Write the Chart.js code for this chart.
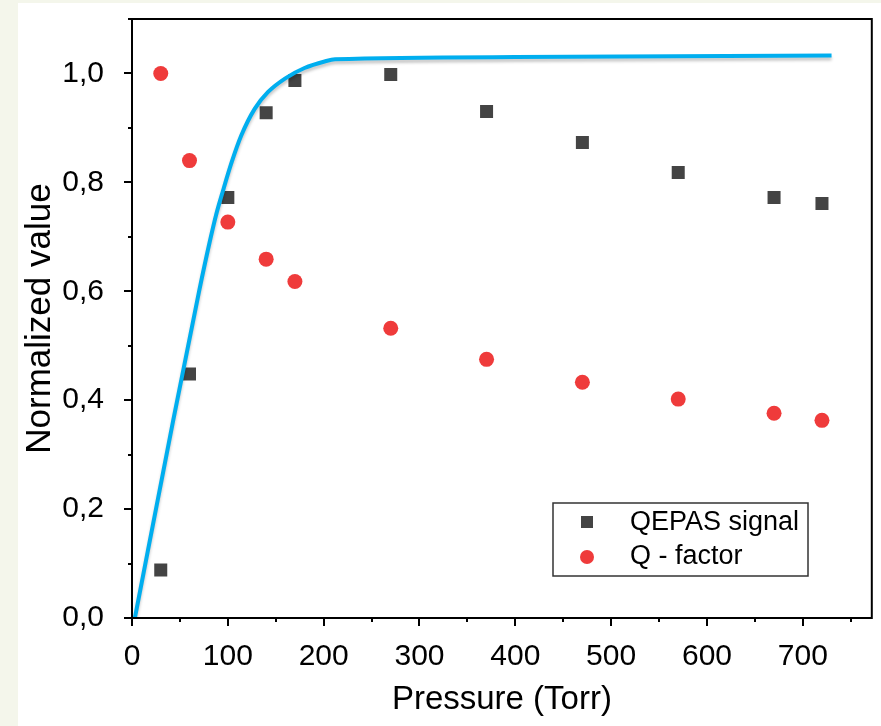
<!DOCTYPE html>
<html>
<head>
<meta charset="utf-8">
<script src="https://cdn.jsdelivr.net/npm/chart.js@4.4.1/dist/chart.umd.min.js"></script>
<style>
  html, body { margin: 0; padding: 0; background: #f4f6eb; }
  #wrap { width: 881px; height: 726px; }
</style>
</head>
<body>
<div id="wrap"><canvas id="chart" width="881" height="726"></canvas></div>
<script>
// ------------------------
// Data
// ------------------------
const pressure = [30, 60, 100, 140, 170, 270, 370, 470, 570, 670, 720];
const qepasSignal = [0.088, 0.448, 0.772, 0.928, 0.987, 0.998, 0.930, 0.873, 0.818, 0.772, 0.761];
const qFactor = [1.0, 0.840, 0.727, 0.659, 0.618, 0.532, 0.475, 0.433, 0.402, 0.376, 0.363];

// fitted curve (blue line)
const fitX = [3, 43, 70, 81, 88, 95, 104, 114, 128, 142, 160, 180, 201, 212, 400, 730];
const fitY = [0, 0.363, 0.6, 0.69, 0.742, 0.785, 0.837, 0.886, 0.935, 0.966, 0.991, 1.010, 1.022, 1.026, 1.030, 1.033];

const legendLabels = ['QEPAS signal', 'Q - factor'];
const FONT = '"Liberation Sans", Arial, sans-serif';

const toPoints = (xs, ys) => xs.map((x, i) => ({ x: x, y: ys[i] }));

// ------------------------
// Plugins
// ------------------------
const panelBg = {
    id: 'panelBg',
    beforeDraw(chart) {
        const ctx = chart.ctx;
        ctx.save();
        ctx.fillStyle = '#f4f6eb';
        ctx.fillRect(0, 0, chart.width, chart.height);
        ctx.fillStyle = '#ffffff';
        ctx.fillRect(18, 3, chart.width - 18, chart.height - 3);
        ctx.restore();
    }
};

// frame + major/minor ticks
const frameTicks = {
    id: 'frameTicks',
    afterDraw(chart) {
        const ctx = chart.ctx;
        const a = chart.chartArea;
        const xs = chart.scales.x;
        const ys = chart.scales.y;
        ctx.save();
        ctx.strokeStyle = '#000';
        ctx.lineWidth = 2;
        ctx.strokeRect(a.left, a.top, a.right - a.left, a.bottom - a.top);
        ctx.beginPath();
        xs.ticks.forEach(t => {
            const px = Math.round(xs.getPixelForValue(t.value));
            const len = t.value % 100 === 0 ? 8 : 4;
            ctx.moveTo(px, a.bottom);
            ctx.lineTo(px, a.bottom + len);
        });
        ys.ticks.forEach(t => {
            const py = Math.round(ys.getPixelForValue(t.value));
            const len = Math.round(t.value * 10) % 2 === 0 ? 8 : 4;
            ctx.moveTo(a.left, py);
            ctx.lineTo(a.left - len, py);
        });
        ctx.stroke();
        ctx.restore();
    }
};

// boxed legend inside the plot
const boxLegend = {
    id: 'boxLegend',
    afterDraw(chart) {
        const ctx = chart.ctx;
        ctx.save();
        ctx.fillStyle = '#ffffff';
        ctx.fillRect(553, 503, 255, 73);
        ctx.strokeStyle = '#333';
        ctx.lineWidth = 1.5;
        ctx.strokeRect(553, 503, 255, 73);
        ctx.fillStyle = '#444444';
        ctx.fillRect(581, 516, 12, 12);
        ctx.fillStyle = '#ef3b3b';
        ctx.beginPath();
        ctx.arc(587, 557, 7, 0, Math.PI * 2);
        ctx.fill();
        ctx.fillStyle = '#000';
        ctx.font = '27px ' + FONT;
        ctx.textBaseline = 'middle';
        ctx.fillText(legendLabels[0], 630, 523);
        ctx.fillText(legendLabels[1], 630, 557);
        ctx.restore();
    }
};

// soft shadow under the blue curve
const lineShadow = {
    id: 'lineShadow',
    beforeDatasetDraw(chart, args) {
        if (args.index !== 0) return;
        const ctx = chart.ctx;
        ctx.save();
        ctx.shadowColor = 'rgba(0,0,0,0.22)';
        ctx.shadowBlur = 3;
        ctx.shadowOffsetY = 3;
    },
    afterDatasetDraw(chart, args) {
        if (args.index !== 0) return;
        chart.ctx.restore();
    }
};

// ------------------------
// Chart
// ------------------------
new Chart(document.getElementById('chart'), {
    type: 'scatter',
    data: {
        datasets: [
            {
                type: 'line',
                label: 'fit',
                data: toPoints(fitX, fitY),
                borderColor: '#00aeef',
                borderWidth: 4,
                pointRadius: 0,
                fill: false,
                cubicInterpolationMode: 'monotone',
                order: 0
            },
            {
                label: legendLabels[0],
                data: toPoints(pressure, qepasSignal),
                pointStyle: 'rect',
                pointRadius: 9.2,
                backgroundColor: '#444444',
                borderColor: '#444444',
                borderWidth: 0,
                order: 1
            },
            {
                label: legendLabels[1],
                data: toPoints(pressure, qFactor),
                pointStyle: 'circle',
                pointRadius: 7.5,
                backgroundColor: '#ef3b3b',
                borderColor: '#ef3b3b',
                borderWidth: 0,
                order: 2
            }
        ]
    },
    options: {
        responsive: false,
        animation: false,
        layout: { padding: { top: 19, right: 9, left: 0, bottom: 0 } },
        plugins: {
            legend: { display: false },
            tooltip: { enabled: false }
        },
        scales: {
            x: {
                type: 'linear',
                min: 0,
                max: 772,
                grid: { display: false },
                border: { display: false },
                afterFit(scale) {
                    scale.height = 108;
                    scale.paddingLeft = 0;
                    scale.paddingRight = 0;
                },
                ticks: {
                    stepSize: 50,
                    includeBounds: false,
                    autoSkip: false,
                    maxRotation: 0,
                    padding: 13,
                    color: '#000',
                    font: { family: FONT, size: 30 },
                    callback: v => (v % 100 === 0 ? v : '')
                },
                title: {
                    display: true,
                    text: 'Pressure (Torr)',
                    color: '#000',
                    font: { family: FONT, size: 33 },
                    padding: { top: 0, bottom: 6 }
                }
            },
            y: {
                type: 'linear',
                min: 0,
                max: 1.1,
                grid: { display: false },
                border: { display: false },
                afterFit(scale) {
                    scale.width = 132;
                    scale.paddingTop = 0;
                    scale.paddingBottom = 0;
                },
                ticks: {
                    stepSize: 0.1,
                    includeBounds: false,
                    autoSkip: false,
                    padding: 20,
                    color: '#000',
                    font: { family: FONT, size: 30 },
                    callback: v => (Math.round(v * 10) % 2 === 0 ? Number(v).toFixed(1).replace('.', ',') : '')
                },
                title: {
                    display: true,
                    text: 'Normalized value',
                    color: '#000',
                    font: { family: FONT, size: 35 },
                    padding: { top: 19, bottom: 0 }
                }
            }
        }
    },
    plugins: [panelBg, lineShadow, frameTicks, boxLegend]
});
</script>
</body>
</html>
